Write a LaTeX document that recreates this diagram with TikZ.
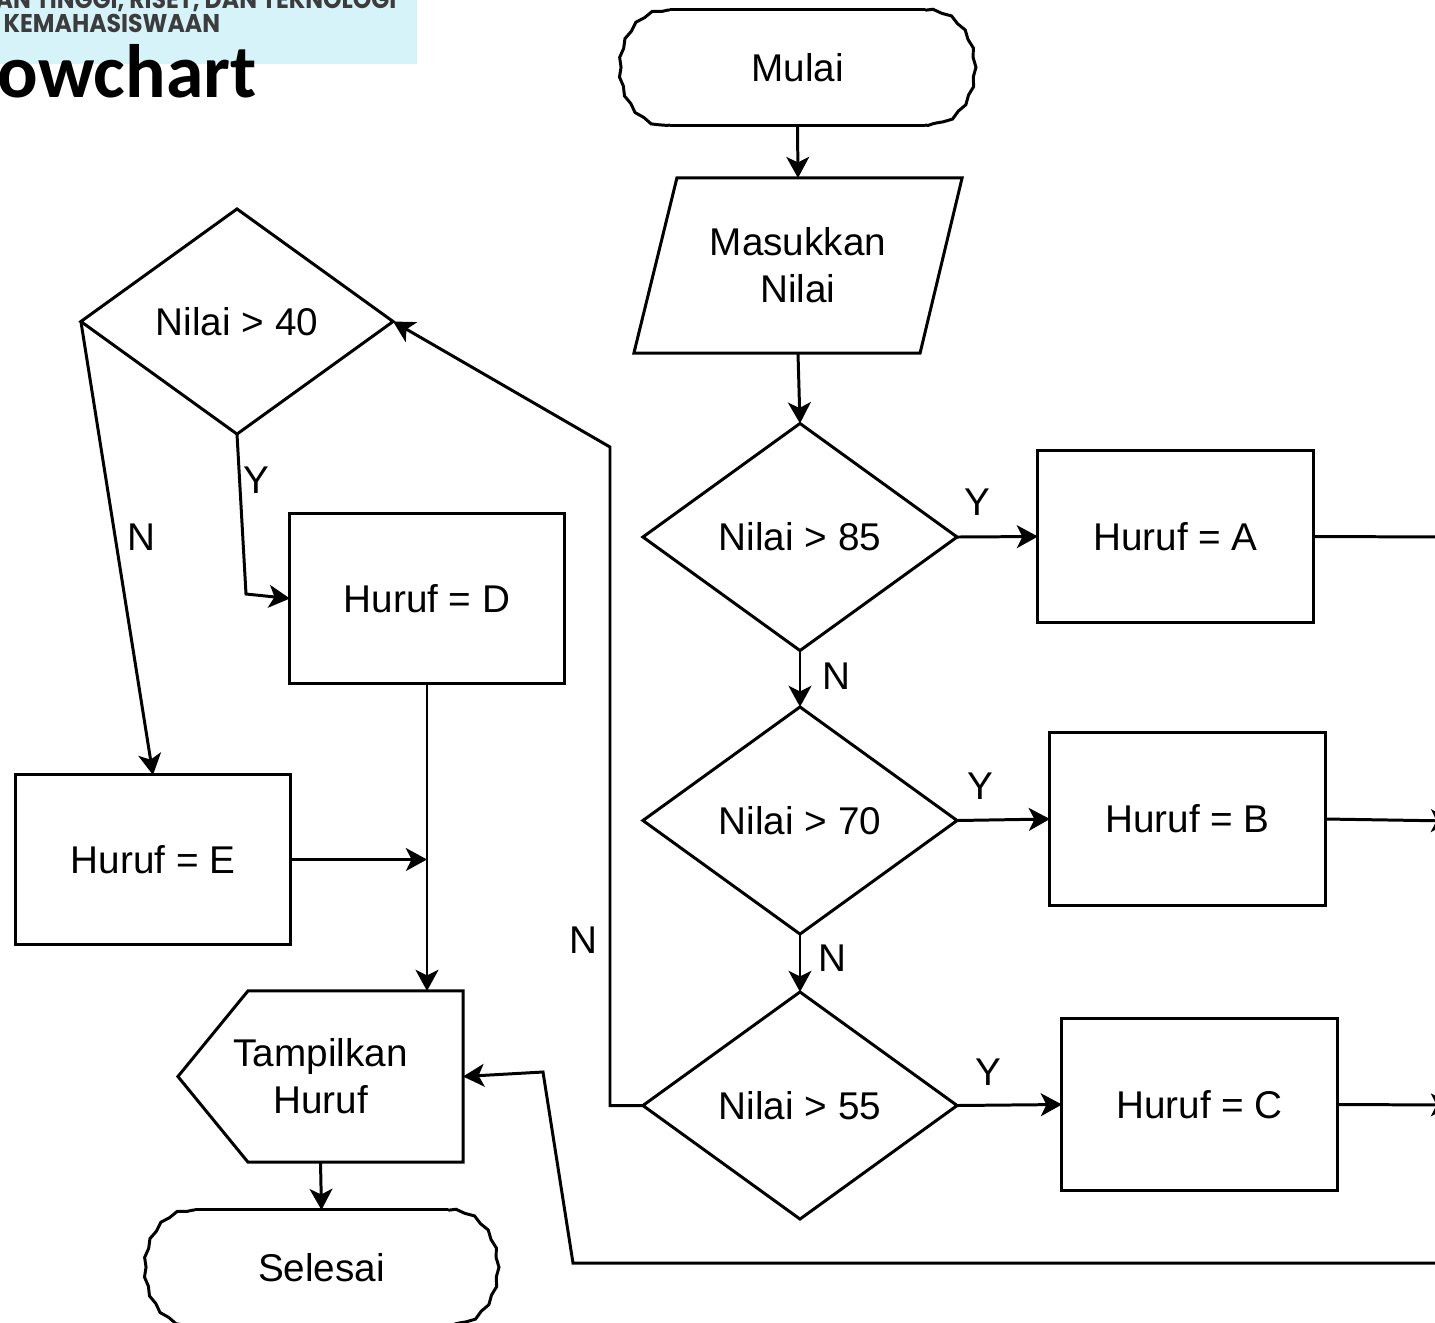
\documentclass[tikz,border=0pt]{standalone}
\usepackage{fontspec}
\setmainfont{Liberation Sans}
\newfontfamily\headfont[FakeStretch=0.92]{Poppins}
\newfontfamily\titlefont{Carlito}
\usetikzlibrary{shapes.geometric,arrows.meta,calc,decorations.pathmorphing}
\definecolor{headbg}{RGB}{214,243,249}
\definecolor{headtxt}{RGB}{60,60,60}

% outline of a start/end terminal: straight top and bottom, slightly wavy rounded ends
\newcommand\termoutline[1]{%
  \draw[lw] ($(#1.north west)+(45,0)$) -- ($(#1.north east)+(-45,0)$);
  \draw[lw] ($(#1.south west)+(45,0)$) -- ($(#1.south east)+(-45,0)$);
  \draw[lw,wob] ($(#1.north east)+(-45,0)$)
     .. controls ($(#1.north east)+(-20,0)$) and ($(#1.east)+(0,-32)$) .. (#1.east)
     .. controls ($(#1.east)+(0,32)$) and ($(#1.south east)+(-20,0)$) .. ($(#1.south east)+(-45,0)$);
  \draw[lw,wob] ($(#1.north west)+(45,0)$)
     .. controls ($(#1.north west)+(20,0)$) and ($(#1.west)+(0,-32)$) .. (#1.west)
     .. controls ($(#1.west)+(0,32)$) and ($(#1.south west)+(20,0)$) .. ($(#1.south west)+(45,0)$);
}

\begin{document}
\begin{tikzpicture}[x=0.01cm,y=-0.01cm,
  lw/.style={line width=0.85pt},
  wob/.style={decorate,decoration={snake,amplitude=0.3pt,segment length=5.5pt,pre length=0.5pt,post length=0.5pt}},
  arr/.style={lw,-{Stealth[length=6pt,width=6.5pt,inset=1.6pt]}},
  txt/.style={font=\fontsize{11}{13.3}\selectfont,align=center,inner sep=0pt,outer sep=0pt},
  frame/.style={txt,rectangle},
  proc/.style={txt,draw,lw,rectangle,minimum width=2.75cm,minimum height=1.71cm},
  dec/.style={txt,draw,lw,diamond,minimum width=3.14cm,minimum height=2.27cm},
  lbl/.style={txt},
  head/.style={anchor=base west,inner sep=0pt,text=headtxt,font=\headfont\bfseries\fontsize{7.3}{8}\selectfont}
]
\useasboundingbox (0,0) rectangle (1435,1323);
\clip (0,0) rectangle (1435,1323);

% header strip
\fill[headbg] (0,0) rectangle (417,64);
\node[head] (hd1) at (-5,8) {AN TINGGI, RISET, DAN TEKNOLOGI};
\node[head] (hd2) at (3,32) {KEMAHASISWAAN};
\node[anchor=base west,inner sep=0pt,font=\titlefont\bfseries\fontsize{21.5}{24}\selectfont] (ttl) at (-3,97) {owchart};

% terminals
\node[frame,minimum width=3.45cm,minimum height=1.15cm] (mulai) at (797.5,67.5) {Mulai};
\termoutline{mulai}
\node[frame,minimum width=3.43cm,minimum height=1.15cm] (selesai) at (321.5,1267.5) {Selesai};
\termoutline{selesai}

% input
\node[frame,minimum width=3.28cm,minimum height=1.75cm] (input) at (798,265.5) {Masukkan\\Nilai};
\draw[lw] (input.south west) -- ($(input.north west)+(43,0)$) -- (input.north east)
  -- ($(input.south east)+(-42,0)$) -- cycle;

% decisions
\node[dec] (d85) at (800,537) {Nilai > 85};
\node[dec] (d70) at (800,820.5) {Nilai > 70};
\node[dec] (d55) at (800,1105.5) {Nilai > 55};
\node[dec,minimum width=3.12cm,minimum height=2.25cm] (d40) at (237,321.5) {Nilai > 40};

% processes
\node[proc] (hA) at (1175.5,536.5) {Huruf = A};
\node[proc,minimum height=1.72cm] (hB) at (1187.5,819) {Huruf = B};
\node[proc] (hC) at (1199.5,1104.5) {Huruf = C};
\node[proc,minimum width=2.74cm,minimum height=1.69cm] (hD) at (427,598.5) {Huruf = D};
\node[proc,minimum width=2.74cm,minimum height=1.69cm] (hE) at (153,859.5) {Huruf = E};

% display
\node[frame,minimum width=2.85cm,minimum height=1.71cm] (disp) at (320.5,1076.5) {Tampilkan\\Huruf};
\draw[lw] (disp.west) -- ($(disp.north west)+(70,0)$) -- (disp.north east)
  -- (disp.south east) -- ($(disp.south west)+(70,0)$) -- cycle;

% helper points
\coordinate (offA) at (1450,537);
\coordinate (offB) at (1452,821);
\coordinate (offC) at (1452,1105);
\coordinate (nA) at (610,1105.5);
\coordinate (nB) at (610,447);
\coordinate (yA) at (246,594);
\coordinate (rA) at (1450,1263);
\coordinate (rB) at (573,1263);
\coordinate (rC) at (543,1072);

% connectors
\draw[arr] (mulai.south) -- (input.north);
\draw[arr] (input.south) -- (d85.north);
\draw[arr] (d85.east) -- (hA.west);
\draw[lw] (hA.east) -- (offA);
\draw[arr] (d85.south) -- (d70.north);
\draw[arr] (d70.east) -- (hB.west);
\draw[arr] (hB.east) -- (offB);
\draw[arr] (d70.south) -- (d55.north);
\draw[arr] (d55.east) -- (hC.west);
\draw[arr] (hC.east) -- (offC);
\draw[arr] (d55.west) -- (nA) -- (nB) -- (d40.east);
\draw[arr] (d40.south) -- (yA) -- (hD.west);
\draw[arr] (d40.west) -- (hE.north);
\draw[arr] (hD.south) -- (hD.south |- disp.north);
\draw[arr] (hE.east) -- (hE.east -| hD.south);
\draw[arr] (rA) -- (rB) -- (rC) -- (disp.east);
\draw[arr] (disp.south) -- (selesai.north);

% branch labels
\node[lbl] (l1) at (977,502) {Y};
\node[lbl] (l2) at (836,676) {N};
\node[lbl] (l3) at (980,786) {Y};
\node[lbl] (l4) at (832,958) {N};
\node[lbl] (l5) at (988,1072) {Y};
\node[lbl] (l6) at (583,940) {N};
\node[lbl] (l7) at (256,480) {Y};
\node[lbl] (l8) at (141,537) {N};
\end{tikzpicture}
\end{document}
